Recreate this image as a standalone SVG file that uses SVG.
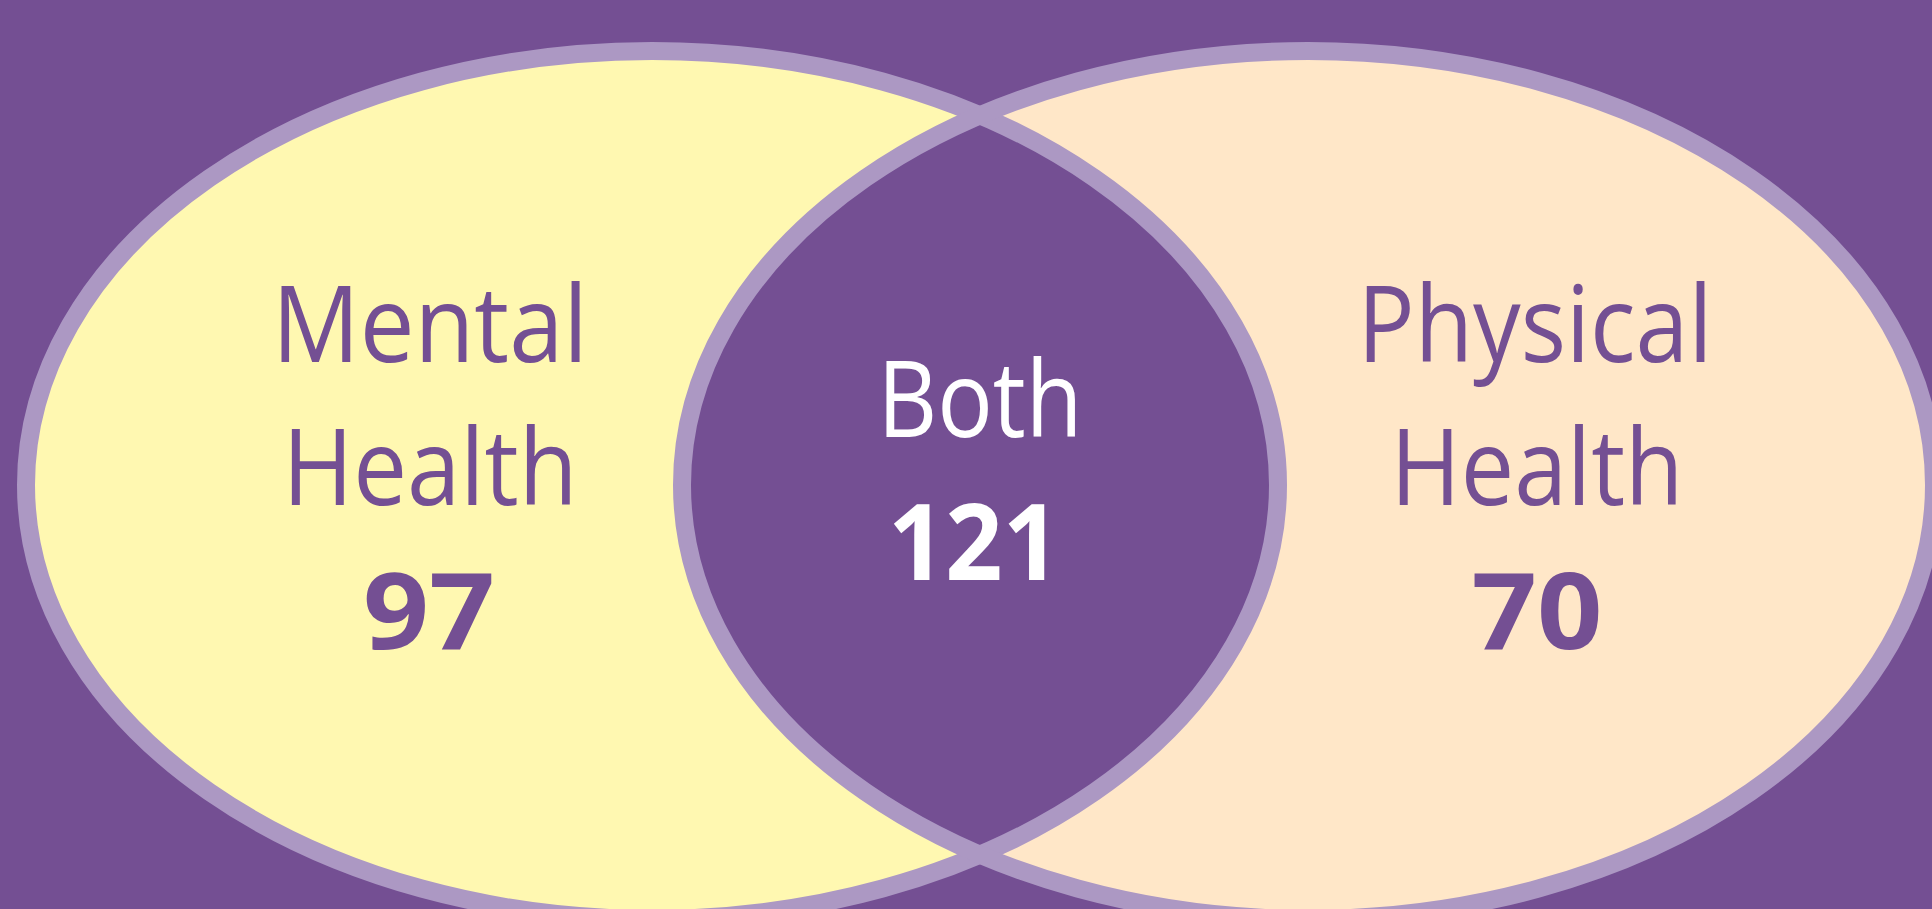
<svg xmlns="http://www.w3.org/2000/svg" width="1932" height="909" viewBox="0 0 1932 909">
  <style>
    .bg { fill: #744F93; }
    .outline { fill: none; stroke: #AC98C3; stroke-width: 18; }
    .label { font-family: "Open Sans", "Liberation Sans", sans-serif; font-size: 107px; text-anchor: middle; }
    .num { font-family: "Open Sans", "Liberation Sans", sans-serif; font-size: 105px; font-weight: 700; text-anchor: middle; }
    .dark { fill: #744F93; }
    .light { fill: #FFFFFF; }
  </style>
  <defs>
    <clipPath id="leftClip">
      <ellipse cx="652" cy="485" rx="626" ry="434"/>
    </clipPath>
  </defs>
  <rect class="bg" x="0" y="0" width="1932" height="909"/>

  <g id="mental-health">
    <ellipse cx="652" cy="485" rx="626" ry="434" fill="#FFF8B1"/>
  </g>
  <g id="physical-health">
    <ellipse cx="1308" cy="485" rx="626" ry="434" fill="#FFE7C8"/>
  </g>
  <g id="both">
    <ellipse cx="1308" cy="485" rx="626" ry="434" fill="#744F93" clip-path="url(#leftClip)"/>
  </g>

  <g id="connectors">
    <ellipse class="outline" cx="652" cy="485" rx="626" ry="434"/>
    <ellipse class="outline" cx="1308" cy="485" rx="626" ry="434"/>
  </g>

  <g id="mental-health-labels">
    <text class="label dark" x="430" y="362" textLength="316" lengthAdjust="spacingAndGlyphs">Mental</text>
    <text class="label dark" x="430" y="505" textLength="295" lengthAdjust="spacingAndGlyphs">Health</text>
    <text class="num dark" x="429" y="649" textLength="132" lengthAdjust="spacingAndGlyphs">97</text>
  </g>
  <g id="both-labels">
    <text class="label light" x="980" y="437" textLength="205" lengthAdjust="spacingAndGlyphs">Both</text>
    <text class="num light" x="974" y="580" textLength="172" lengthAdjust="spacingAndGlyphs">121</text>
  </g>
  <g id="physical-health-labels">
    <text class="label dark" x="1535" y="362" textLength="355" lengthAdjust="spacingAndGlyphs">Physical</text>
    <text class="label dark" x="1537" y="505" textLength="293" lengthAdjust="spacingAndGlyphs">Health</text>
    <text class="num dark" x="1537" y="649" textLength="131" lengthAdjust="spacingAndGlyphs">70</text>
  </g>
</svg>
